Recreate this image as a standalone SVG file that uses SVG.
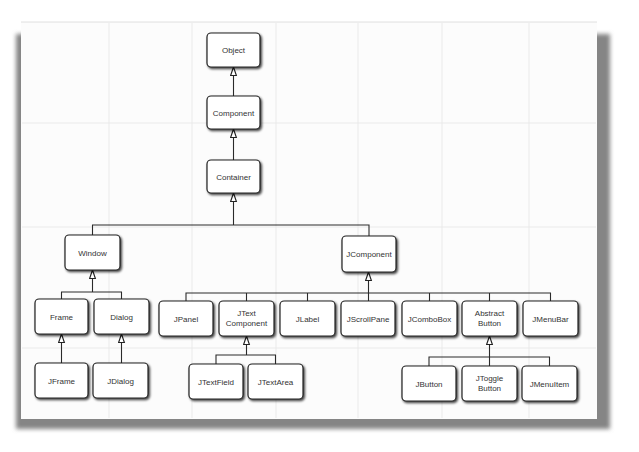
<svg xmlns="http://www.w3.org/2000/svg" width="639" height="452" viewBox="0 0 639 452">
<defs>
<filter id="pshadow" x="-5%" y="-5%" width="110%" height="110%"><feGaussianBlur stdDeviation="2.2"/></filter>
<filter id="bshadow" x="-20%" y="-20%" width="150%" height="160%"><feDropShadow dx="1.4" dy="1.6" stdDeviation="0.9" flood-color="#000" flood-opacity="0.75"/></filter>
<marker id="tri" viewBox="0 0 11 8" refX="10.3" refY="4" markerWidth="10" markerHeight="8" markerUnits="userSpaceOnUse" orient="auto">
<path d="M10.3,4 L0.8,0.8 L0.8,7.2 Z" fill="#fff" stroke="#222" stroke-width="1.3" stroke-linejoin="miter"/>
</marker>
<style>
.box{fill:#fff;stroke:#222;stroke-width:1.2;filter:url(#bshadow)}
.lbl{font-family:"Liberation Sans",Arial,sans-serif;font-size:8px;fill:#333;text-anchor:middle}
.con{fill:none;stroke:#2a2a2a;stroke-width:1.1}
.grid{stroke:#e6e6e6;stroke-width:0.8}
</style>
</defs>
<rect width="639" height="452" fill="#fff"/>
<g id="panel">
<rect x="16" y="34" width="594" height="395" fill="#858585" filter="url(#pshadow)"/>
<rect x="21" y="22" width="576" height="397" fill="#fcfcfc"/>
<line x1="21" y1="22" x2="597" y2="22" stroke="#d8d8d8" stroke-width="0.8"/>
<g class="grid">
<line x1="109" y1="23" x2="109" y2="418"/>
<line x1="192" y1="23" x2="192" y2="418"/>
<line x1="276" y1="23" x2="276" y2="418"/>
<line x1="358" y1="23" x2="358" y2="418"/>
<line x1="442" y1="23" x2="442" y2="418"/>
<line x1="529" y1="23" x2="529" y2="418"/>
<line x1="22" y1="123" x2="596" y2="123"/>
<line x1="22" y1="227" x2="596" y2="227"/>
<line x1="22" y1="348" x2="596" y2="348"/>
</g>
</g>
<g id="connectors">
<path class="con" d="M233.5,96 V67" marker-end="url(#tri)"/>
<path class="con" d="M233.5,160 V129" marker-end="url(#tri)"/>
<path class="con" d="M233.5,225 V193" marker-end="url(#tri)"/>
<path class="con" d="M92.5,235 V225 H369 V236"/>
<path class="con" d="M92.5,292 V270" marker-end="url(#tri)"/>
<path class="con" d="M61.5,299 V292 H121.5 V299"/>
<path class="con" d="M61.5,363 V334" marker-end="url(#tri)"/>
<path class="con" d="M121.5,363 V334" marker-end="url(#tri)"/>
<path class="con" d="M368.5,301 V272" marker-end="url(#tri)"/>
<path class="con" d="M186,301 V293 H550.5 V301"/>
<path class="con" d="M246.5,293 V301"/>
<path class="con" d="M307.5,293 V301"/>
<path class="con" d="M429.5,293 V301"/>
<path class="con" d="M489.5,293 V301"/>
<path class="con" d="M246.5,355 V336" marker-end="url(#tri)"/>
<path class="con" d="M216,364 V355 H275.5 V364"/>
<path class="con" d="M489.5,366 V336" marker-end="url(#tri)"/>
<path class="con" d="M429,366 V357 H549.5 V366"/>
</g>
<g id="n-object"><rect class="box" x="207" y="33" width="53" height="34" rx="4"/><text class="lbl" x="233.5" y="53">Object</text></g>
<g id="n-component"><rect class="box" x="207" y="96" width="53" height="33" rx="4"/><text class="lbl" x="233.5" y="115.5">Component</text></g>
<g id="n-container"><rect class="box" x="207" y="160" width="53" height="33" rx="4"/><text class="lbl" x="233.5" y="179.5">Container</text></g>
<g id="n-window"><rect class="box" x="65" y="235" width="55" height="35" rx="4"/><text class="lbl" x="92.5" y="255.5">Window</text></g>
<g id="n-jcomponent"><rect class="box" x="342" y="236" width="54" height="36" rx="4"/><text class="lbl" x="369" y="257">JComponent</text></g>
<g id="n-frame"><rect class="box" x="35" y="299" width="53" height="35" rx="4"/><text class="lbl" x="61.5" y="319.5">Frame</text></g>
<g id="n-dialog"><rect class="box" x="94" y="299" width="55" height="35" rx="4"/><text class="lbl" x="121.5" y="319.5">Dialog</text></g>
<g id="n-jframe"><rect class="box" x="35" y="363" width="53" height="35" rx="4"/><text class="lbl" x="61.5" y="383.5">JFrame</text></g>
<g id="n-jdialog"><rect class="box" x="93" y="363" width="55" height="35" rx="4"/><text class="lbl" x="120.5" y="383.5">JDialog</text></g>
<g id="n-jpanel"><rect class="box" x="159" y="301" width="54" height="35" rx="4"/><text class="lbl" x="186" y="321.5">JPanel</text></g>
<g id="n-jtextcomponent"><rect class="box" x="219" y="301" width="55" height="35" rx="4"/><text class="lbl" x="246.5" y="316">JText</text><text class="lbl" x="246.5" y="326">Component</text></g>
<g id="n-jlabel"><rect class="box" x="280" y="301" width="55" height="35" rx="4"/><text class="lbl" x="307.5" y="321.5">JLabel</text></g>
<g id="n-jscrollpane"><rect class="box" x="341" y="301" width="54" height="35" rx="4"/><text class="lbl" x="368" y="321.5">JScrollPane</text></g>
<g id="n-jcombobox"><rect class="box" x="402" y="301" width="55" height="35" rx="4"/><text class="lbl" x="429.5" y="321.5">JComboBox</text></g>
<g id="n-abstractbutton"><rect class="box" x="462" y="301" width="55" height="35" rx="4"/><text class="lbl" x="489.5" y="316">Abstract</text><text class="lbl" x="489.5" y="326">Button</text></g>
<g id="n-jmenubar"><rect class="box" x="523" y="301" width="55" height="35" rx="4"/><text class="lbl" x="550.5" y="321.5">JMenuBar</text></g>
<g id="n-jtextfield"><rect class="box" x="189" y="364" width="54" height="35" rx="4"/><text class="lbl" x="216" y="384.5">JTextField</text></g>
<g id="n-jtextarea"><rect class="box" x="248" y="364" width="55" height="35" rx="4"/><text class="lbl" x="275.5" y="384.5">JTextArea</text></g>
<g id="n-jbutton"><rect class="box" x="402" y="366" width="54" height="35" rx="4"/><text class="lbl" x="429" y="386.5">JButton</text></g>
<g id="n-jtogglebutton"><rect class="box" x="462" y="366" width="55" height="35" rx="4"/><text class="lbl" x="489.5" y="381">JToggle</text><text class="lbl" x="489.5" y="391">Button</text></g>
<g id="n-jmenuitem"><rect class="box" x="522" y="366" width="55" height="35" rx="4"/><text class="lbl" x="549.5" y="386.5">JMenuItem</text></g>
</svg>
